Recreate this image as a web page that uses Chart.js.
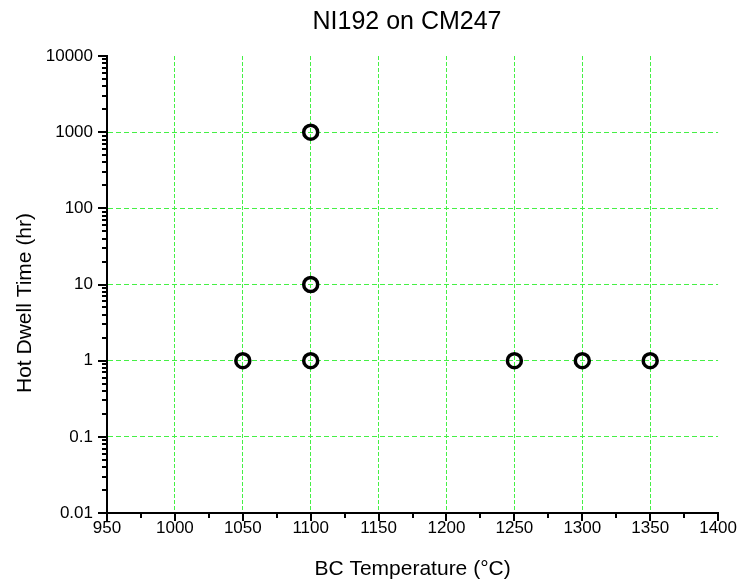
<!DOCTYPE html>
<html lang="en">
<head>
    <meta charset="UTF-8">
    <title>NI192 on CM247</title>
    <style>
        html, body { margin: 0; padding: 0; background: #fff; }
        #wrap { width: 742px; height: 584px; }
    </style>
    <script src="https://cdn.jsdelivr.net/npm/chart.js"></script>
</head>
<body>
    <div id="wrap"><canvas id="dwell-chart" width="742" height="584"></canvas></div>

    <script>
        // test points: BC temperature (°C) vs hot dwell time (hr)
        const temperatures = [1050, 1100, 1100, 1100, 1250, 1300, 1350];
        const dwellHours = [1, 1, 10, 1000, 1, 1, 1];

        const xMajorTicks = [950, 1000, 1050, 1100, 1150, 1200, 1250, 1300, 1350, 1400];
        const xMinorTicks = [975, 1025, 1075, 1125, 1175, 1225, 1275, 1325, 1375];
        const yMajorTicks = [0.01, 0.1, 1, 10, 100, 1000, 10000];

        const chartTitle = 'NI192 on CM247';
        const xTitle = 'BC Temperature (°C)';
        const yTitle = 'Hot Dwell Time (hr)';

        const FONT = "'Liberation Sans', Arial, sans-serif";
        const gridGreen = '#45f045';

        // titles and black tick marks drawn outside the axes, like the old plotting package
        const axisDecor = {
            id: 'axisDecor',
            afterDraw(chart) {
                const ctx = chart.ctx;
                const xs = chart.scales.x;
                const ys = chart.scales.y;
                const area = chart.chartArea;
                ctx.save();
                ctx.strokeStyle = '#000';
                ctx.lineWidth = 2;
                ctx.beginPath();
                xMajorTicks.forEach(v => {
                    const px = Math.round(xs.getPixelForValue(v));
                    ctx.moveTo(px, area.bottom);
                    ctx.lineTo(px, area.bottom + 8);
                });
                xMinorTicks.forEach(v => {
                    const px = Math.round(xs.getPixelForValue(v));
                    ctx.moveTo(px, area.bottom);
                    ctx.lineTo(px, area.bottom + 5);
                });
                yMajorTicks.forEach(v => {
                    const py = Math.round(ys.getPixelForValue(v));
                    ctx.moveTo(area.left, py);
                    ctx.lineTo(area.left - 9, py);
                });
                for (let d = 0.01; d < 9999; d *= 10) {
                    for (let m = 2; m <= 9; m++) {
                        const py = Math.round(ys.getPixelForValue(d * m));
                        ctx.moveTo(area.left, py);
                        ctx.lineTo(area.left - 5, py);
                    }
                }
                ctx.stroke();

                ctx.fillStyle = '#000';
                ctx.textAlign = 'center';
                ctx.textBaseline = 'alphabetic';
                ctx.font = '25px ' + FONT;
                ctx.fillText(chartTitle, 407, 29);

                ctx.font = '21px ' + FONT;
                ctx.textBaseline = 'middle';
                ctx.fillText(xTitle, (area.left + area.right) / 2, 569);

                ctx.translate(25, 303);
                ctx.rotate(-Math.PI / 2);
                ctx.fillText(yTitle, 0, 0);
                ctx.restore();
            }
        };

        function edgeTransparent(ticks) {
            return (c) => (c.index === 0 || c.index === ticks.length - 1) ? 'rgba(0,0,0,0)' : gridGreen;
        }

        new Chart(document.getElementById('dwell-chart'), {
            type: 'scatter',
            data: {
                datasets: [{
                    data: temperatures.map((t, i) => ({ x: t, y: dwellHours[i] })),
                    pointRadius: 7,
                    pointHoverRadius: 7,
                    pointBorderWidth: 3.5,
                    pointBorderColor: '#000',
                    pointBackgroundColor: 'rgba(0,0,0,0)'
                }]
            },
            options: {
                responsive: false,
                animation: false,
                layout: { padding: { left: 0, right: 23, top: 56, bottom: 0 } },
                plugins: {
                    legend: { display: false },
                    tooltip: { enabled: false },
                    title: { display: false }
                },
                scales: {
                    x: {
                        type: 'linear',
                        min: 950,
                        max: 1400,
                        afterBuildTicks: (s) => { s.ticks = xMajorTicks.map(v => ({ value: v })); },
                        afterFit: (s) => { s.height = 71; },
                        grid: {
                            color: edgeTransparent(xMajorTicks),
                            drawTicks: false
                        },
                        border: { display: true, color: '#000', width: 2, dash: [4, 2] },
                        ticks: {
                            color: '#000',
                            padding: 5,
                            font: { family: FONT, size: 17 },
                            callback: (v) => String(v)
                        }
                    },
                    y: {
                        type: 'logarithmic',
                        min: 0.01,
                        max: 10000,
                        afterBuildTicks: (s) => { s.ticks = yMajorTicks.map(v => ({ value: v })); },
                        afterFit: (s) => { s.width = 107; },
                        grid: {
                            color: edgeTransparent(yMajorTicks),
                            drawTicks: false
                        },
                        border: { display: true, color: '#000', width: 2, dash: [5, 3] },
                        ticks: {
                            color: '#000',
                            padding: 14,
                            font: { family: FONT, size: 17 },
                            callback: (v) => String(v)
                        }
                    }
                }
            },
            plugins: [axisDecor]
        });
    </script>
</body>
</html>
